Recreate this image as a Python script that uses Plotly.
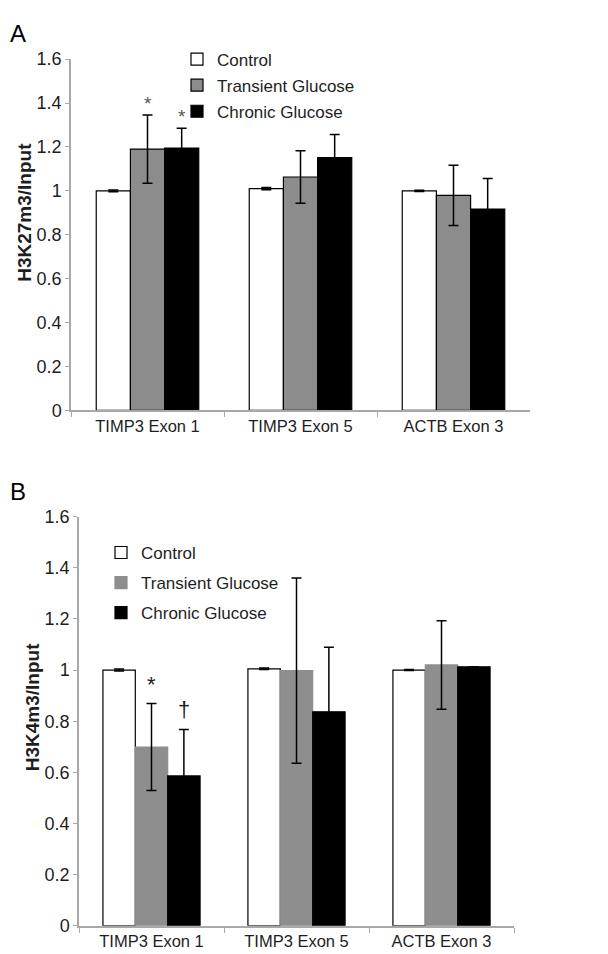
import plotly.graph_objects as go

# data
genes = ["TIMP3 Exon 1", "TIMP3 Exon 5", "ACTB Exon 3"]
groups = ["Control", "Transient Glucose", "Chronic Glucose"]

k27_control = [1.00, 1.01, 1.00]
k27_transient = [1.19, 1.063, 0.979]
k27_chronic = [1.195, 1.151, 0.917]
k27_control_err = [0.004, 0.005, 0.003]
k27_transient_err = [0.155, 0.12, 0.137]
k27_chronic_err = [0.09, 0.105, 0.139]

k4_control = [1.00, 1.005, 1.00]
k4_transient = [0.699, 0.998, 1.02]
k4_chronic = [0.586, 0.837, 1.013]
k4_control_err = [0.004, 0.003, 0.002]
k4_transient_err = [0.17, 0.362, 0.173]
k4_chronic_err = [0.182, 0.252, 0.0]

# significance marks: (panel, group index, gene index, symbol)
marks = [("A", 1, 0, "*"), ("A", 2, 0, "*"), ("B", 1, 0, "*"), ("B", 2, 0, "†")]

W, H = 608, 954
font = "Liberation Sans, Arial, sans-serif"
ink = "#1e1e1e"
axis_grey = "#a8a8a8"
gap = 0.33

fills_a = ["white", "#8c8c8c", "black"]
lines_a = ["black", "black", "black"]
fills_b = ["white", "#8e8e8e", "black"]
lines_b = ["black", "#8e8e8e", "black"]

panels = {
    "A": dict(vals=[k27_control, k27_transient, k27_chronic],
              errs=[k27_control_err, k27_transient_err, k27_chronic_err],
              xa="x", ya="y", legend="legend", fills=fills_a, lines=lines_a),
    "B": dict(vals=[k4_control, k4_transient, k4_chronic],
              errs=[k4_control_err, k4_transient_err, k4_chronic_err],
              xa="x2", ya="y2", legend="legend2", fills=fills_b, lines=lines_b),
}

fig = go.Figure()
for name, p in panels.items():
    for i, g in enumerate(groups):
        fig.add_trace(go.Bar(
            x=genes, y=p["vals"][i], name=g,
            xaxis=p["xa"], yaxis=p["ya"], legend=p["legend"],
            legendgroup=name + g,
            marker=dict(color=p["fills"][i], line=dict(color=p["lines"][i], width=1.2)),
            error_y=dict(type="data", array=p["errs"][i], visible=True,
                         color="black", thickness=1.5, width=5),
        ))

annotations = []
for panel, gi, ci, sym in marks:
    p = panels[panel]
    xpos = ci + (gi - 1) * (1 - gap) / 3
    top = p["vals"][gi][ci] + p["errs"][gi][ci]
    annotations.append(dict(
        x=xpos, y=top, xref=p["xa"], yref=p["ya"], text=sym, showarrow=False,
        yanchor="bottom", yshift=-1 if panel == "A" else 5,
        font=dict(family=font, size=19 if panel == "A" else 22,
                  color="#555555" if panel == "A" else ink)))

# panel letters and y titles
annotations += [
    dict(x=0.0, y=1 - 16 / H, xref="paper", yref="paper", text="A", showarrow=False,
         xanchor="left", yanchor="middle", font=dict(family=font, size=24, color="black")),
    dict(x=0.0, y=1 - 484 / H, xref="paper", yref="paper", text="B", showarrow=False,
         xanchor="left", yanchor="middle", font=dict(family=font, size=24, color="black")),
    dict(x=17 / W, y=1 - 199 / H, xref="paper", yref="paper", text="<b>H3K27m3/Input</b>",
         textangle=-90, showarrow=False, xanchor="center", yanchor="middle",
         font=dict(family=font, size=19, color=ink)),
    dict(x=24 / W, y=1 - 704 / H, xref="paper", yref="paper", text="<b>H3K4m3/Input</b>",
         textangle=-90, showarrow=False, xanchor="center", yanchor="middle",
         font=dict(family=font, size=19, color=ink)),
]

xstyle = dict(type="category", showline=True, linecolor=axis_grey, linewidth=1.5,
              ticks="outside", tickson="boundaries", ticklen=5, tickcolor=axis_grey,
              tickfont=dict(family=font, size=16.5, color=ink), showgrid=False, zeroline=False)
ystyle = dict(range=[0, 1.6], dtick=0.2, showline=True, linecolor=axis_grey, linewidth=1.5,
              ticks="outside", ticklen=4, tickcolor=axis_grey, showgrid=False, zeroline=False,
              tickfont=dict(family=font, size=18, color=ink))

legstyle = dict(font=dict(family=font, size=17, color=ink), bgcolor="rgba(0,0,0,0)",
                xanchor="left", yanchor="top", traceorder="grouped")

fig.update_layout(
    width=W, height=H, margin=dict(l=0, r=0, t=0, b=0),
    paper_bgcolor="white", plot_bgcolor="white",
    barmode="group", bargap=gap, bargroupgap=0,
    xaxis=dict(domain=[63 / W, 522 / W], anchor="y", **xstyle),
    yaxis=dict(domain=[1 - 400.7 / H, 1 - 42 / H], anchor="x", **ystyle),
    xaxis2=dict(domain=[71 / W, 506 / W], anchor="y2", **xstyle),
    yaxis2=dict(domain=[1 - 927.3 / H, 1 - 509.3 / H], anchor="x2", **ystyle),
    legend=dict(x=169 / W, y=1 - 24 / H, tracegroupgap=1, **legstyle),
    legend2=dict(x=93 / W, y=1 - 528 / H, tracegroupgap=5, **legstyle),
    annotations=annotations,
    showlegend=True,
)

fig.write_html("out.html")
